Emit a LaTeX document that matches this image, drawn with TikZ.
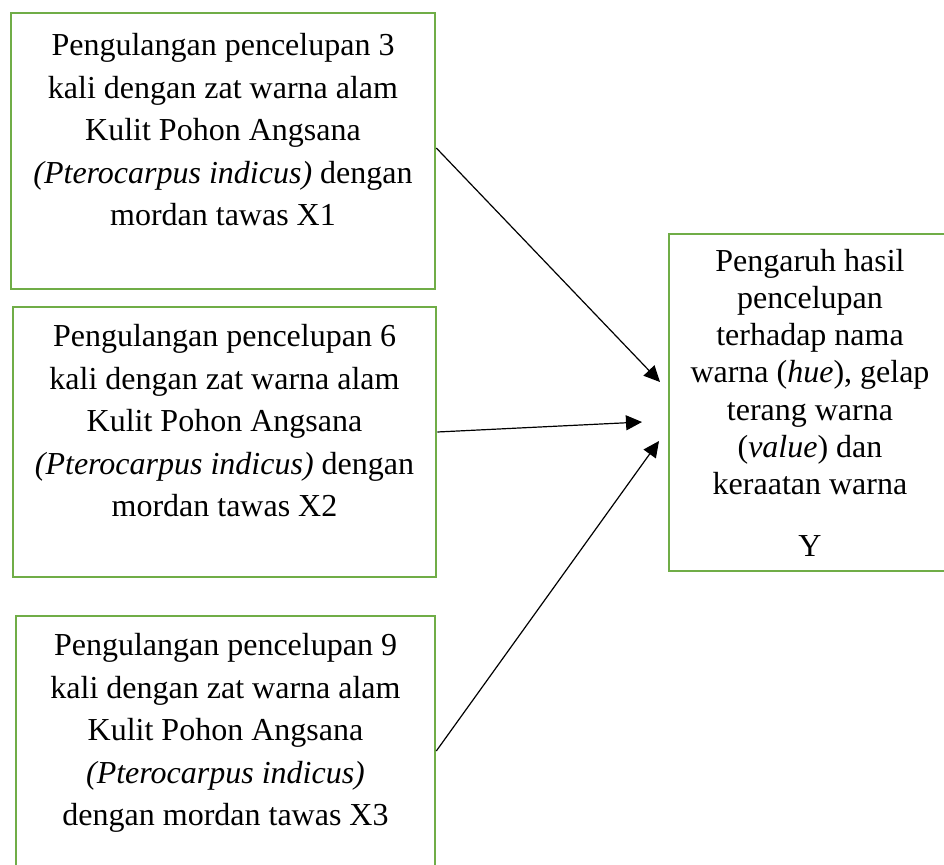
\documentclass[tikz,border=0pt]{standalone}
\usepackage{fontspec}
\setmainfont{Liberation Serif}
\usetikzlibrary{arrows.meta}
\definecolor{boxgreen}{HTML}{70AD47}

\begin{document}
\begin{tikzpicture}[x=1pt, y=-1pt,
  factor/.style={draw=boxgreen, line width=2.6pt, align=center, font=\fontsize{32}{42.5}\selectfont, minimum height=270pt},
  outcome/.style={draw=boxgreen, line width=2.6pt, align=center, font=\fontsize{32}{37.3}\selectfont},
  arrow/.style={-{Triangle[length=16pt, width=15pt]}, line width=1.2pt}
]
  \useasboundingbox (0,0) rectangle (944,864);

  \node[factor, minimum width=424pt, minimum height=276pt] (x1) at (223,151) {Pengulangan pencelupan 3\\kali dengan zat warna alam\\Kulit Pohon Angsana\\\textit{(Pterocarpus indicus)} dengan\\mordan tawas X1\\\mbox{}};
  \node[factor, minimum width=423pt] (x2) at (224.5,442) {Pengulangan pencelupan 6\\kali dengan zat warna alam\\Kulit Pohon Angsana\\\textit{(Pterocarpus indicus)} dengan\\mordan tawas X2\\\mbox{}};
  \node[factor, minimum width=419pt] (x3) at (225.5,751) {Pengulangan pencelupan 9\\kali dengan zat warna alam\\Kulit Pohon Angsana\\\textit{(Pterocarpus indicus)}\\dengan mordan tawas X3\\\mbox{}};

  \node[outcome, minimum width=282pt, minimum height=337pt] (y) at (810,402.5) {Pengaruh hasil\\pencelupan\\terhadap nama\\warna (\textit{hue}), gelap\\terang warna\\(\textit{value}) dan\\keraatan warna\\[24pt]Y};

  % arrow tips stop short of the Y box
  \coordinate (in1) at (660,382);
  \coordinate (in2) at (642,422);
  \coordinate (in3) at (659,441);

  \draw[arrow] ([yshift=3pt]x1.east) -- (in1);
  \draw[arrow] ([yshift=10pt]x2.east) -- (in2);
  \draw[arrow] (x3.east) -- (in3);
\end{tikzpicture}
\end{document}
